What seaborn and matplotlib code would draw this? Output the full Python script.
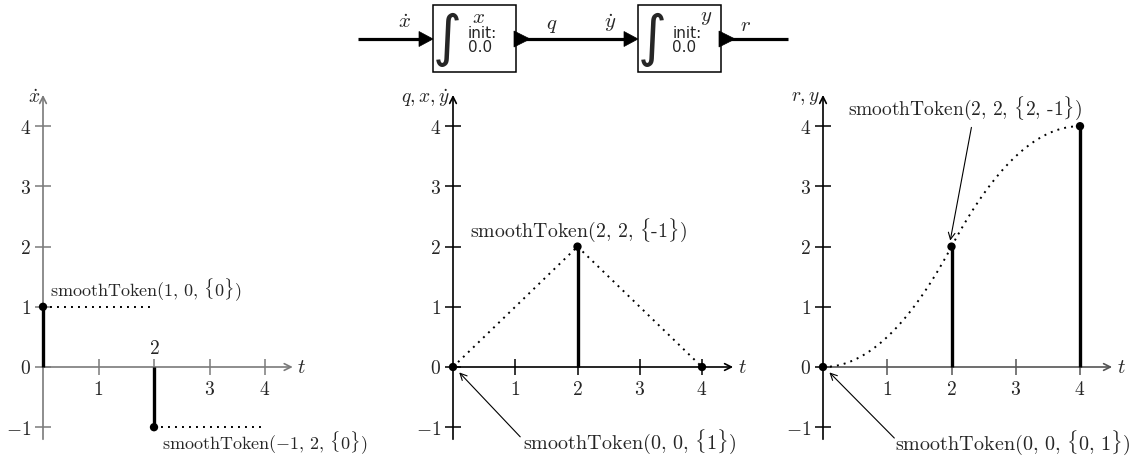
import numpy as np
import pandas as pd
import matplotlib
matplotlib.use("Agg")
import matplotlib.pyplot as plt
from matplotlib.patches import Rectangle, Polygon
import seaborn as sns

sns.set_theme(style="white")
plt.rcParams.update({
    "mathtext.fontset": "cm",
    "font.family": ["DejaVu Sans"],
    "axes.unicode_minus": True,
})

# ---- token data: (value, time, derivatives) and how far each token's trajectory runs
xdot_times = [0, 2]
xdot_values = [1, -1]
xdot_derivs = [[0], [0]]
xdot_until = [2, 4]

q_times = [0, 2, 4]
q_values = [0, 2, 0]
q_derivs = [[1], [-1], []]
q_until = [2, 4, 4]

r_times = [0, 2, 4]
r_values = [0, 2, 4]
r_derivs = [[0, 1], [2, -1], []]
r_until = [2, 4, 4]

tick_labels = ["1", "2", "3", "4"]
ytick_values = [-1, 0, 1, 2, 3, 4]

W, H, DPI = 1135, 457, 100
fig = plt.figure(figsize=(W / DPI, H / DPI), dpi=DPI)
fig.patch.set_facecolor("white")

ORIGIN_Y = 367      # pixel row of value 0
SY = 60.2           # pixels per value unit
XLIM = (-0.6, 4.9)
YLIM = (-1.45, 4.75)

TICK = 14


def make_axes(ox, sx):
    left = ox + XLIM[0] * sx
    width = (XLIM[1] - XLIM[0]) * sx
    bottom_px = ORIGIN_Y - YLIM[0] * SY
    height = (YLIM[1] - YLIM[0]) * SY
    ax = fig.add_axes([left / W, 1 - bottom_px / H, width / W, height / H])
    ax.set_xlim(*XLIM)
    ax.set_ylim(*YLIM)
    ax.patch.set_alpha(0)
    return ax


def trajectory(times, values, derivs, until):
    rows = []
    for k, (t0, v0, d, t1) in enumerate(zip(times, values, derivs, until)):
        if t1 <= t0:
            continue
        tt = np.linspace(t0, t1, 80)
        vv = np.full_like(tt, float(v0))
        fact = 1.0
        for n, c in enumerate(d, start=1):
            fact *= n
            vv = vv + c * (tt - t0) ** n / fact
        rows.append(pd.DataFrame({"t": tt, "v": vv, "seg": k}))
    return pd.concat(rows, ignore_index=True)


def token_label(value, time, derivs):
    # value printed with a true minus sign, derivative list printed as plain text
    if value < 0:
        val = r"\text{smoothToken(}{-" + str(abs(value)) + r"}\text{, "
    else:
        val = r"\text{smoothToken(" + str(value) + ", "
    inner = ", ".join(str(d) for d in derivs)
    return "$" + val + str(time) + r", }\{\text{" + inner + r"}\}\text{)}$"


def style_axes(ax, axis_color_x, axis_color_y, ylabel, label_2_above=False):
    for s in ax.spines.values():
        s.set_visible(False)
    ax.spines["bottom"].set_position(("data", 0))
    ax.spines["left"].set_position(("data", 0))
    ax.annotate("", xy=(4.5, 0), xytext=(0, 0),
                arrowprops=dict(arrowstyle="->", color=axis_color_x, lw=1.2,
                                shrinkA=0, shrinkB=0), zorder=1)
    ax.annotate("", xy=(0, 4.52), xytext=(0, -1.2),
                arrowprops=dict(arrowstyle="->", color=axis_color_y, lw=1.2,
                                shrinkA=0, shrinkB=0), zorder=1)
    ax.set_xticks([1, 2, 3, 4])
    labels = [f"${s}$" for s in tick_labels]
    if label_2_above:
        labels[1] = ""
        ax.annotate("$2$", xy=(2, 0), xytext=(0, 13), textcoords="offset points",
                    ha="center", va="center", fontsize=TICK)
    ax.set_xticklabels(labels, fontsize=TICK)
    ax.set_yticks(ytick_values)
    ax.set_yticklabels([f"${v}$" if v >= 0 else f"$-{abs(v)}$" for v in ytick_values],
                       fontsize=TICK)
    ax.tick_params(axis="x", direction="inout", length=11, width=1.1,
                   color=axis_color_x, pad=4, bottom=True)
    ax.tick_params(axis="y", direction="inout", length=11, width=1.1,
                   color=axis_color_y, pad=3, left=True)
    ax.grid(False)
    ax.text(4.58, 0, "$t$", ha="left", va="center", fontsize=TICK + 1)
    ax.text(-0.05, 4.47, ylabel, ha="right", va="center", fontsize=TICK)


def draw_tokens(ax, times, values, derivs, until):
    traj = trajectory(times, values, derivs, until)
    sns.lineplot(data=traj, x="t", y="v", units="seg", estimator=None, ax=ax,
                 color="black", lw=1.4, linestyle=(0, (1, 2.6)), zorder=2,
                 legend=False)
    ax.vlines(times, 0, values, color="black", lw=2.4, zorder=3)
    pts = pd.DataFrame({"t": times, "v": values})
    sns.scatterplot(data=pts, x="t", y="v", ax=ax, color="black", s=36,
                    edgecolor="none", zorder=4, legend=False)
    ax.set_xlabel("")
    ax.set_ylabel("")


# ---- left: input derivative
ax1 = make_axes(43, 55.5)
style_axes(ax1, "#7a7a7a", "#7a7a7a", r"$\dot{x}$", label_2_above=True)
draw_tokens(ax1, xdot_times, xdot_values, xdot_derivs, xdot_until)
ax1.text(0.13, 1.28, token_label(xdot_values[0], xdot_times[0], xdot_derivs[0]),
         ha="left", va="center", fontsize=13)
ax1.text(2.14, -1.25, token_label(xdot_values[1], xdot_times[1], xdot_derivs[1]),
         ha="left", va="center", fontsize=13)

# ---- middle: first integrator output
ax2 = make_axes(453, 62.25)
style_axes(ax2, "black", "black", r"$q, x, \dot{y}$")
draw_tokens(ax2, q_times, q_values, q_derivs, q_until)
ax2.text(0.27, 2.27, token_label(q_values[1], q_times[1], q_derivs[1]),
         ha="left", va="center", fontsize=14.3)
ax2.text(1.12, -1.25, token_label(q_values[0], q_times[0], q_derivs[0]),
         ha="left", va="center", fontsize=14.5)
ax2.annotate("", xy=(0.1, -0.09), xytext=(1.08, -1.16),
             arrowprops=dict(arrowstyle="->", color="black", lw=0.8,
                             shrinkA=0, shrinkB=0))

# ---- right: second integrator output
ax3 = make_axes(823, 64.25)
style_axes(ax3, "#555555", "black", r"$r, y$")
draw_tokens(ax3, r_times, r_values, r_derivs, r_until)
ax3.text(0.39, 4.3, token_label(r_values[1], r_times[1], r_derivs[1]),
         ha="left", va="center", fontsize=14)
ax3.annotate("", xy=(1.98, 2.1), xytext=(2.31, 3.98),
             arrowprops=dict(arrowstyle="->", color="black", lw=0.8,
                             shrinkA=0, shrinkB=0))
ax3.text(1.12, -1.26, token_label(r_values[0], r_times[0], r_derivs[0]),
         ha="left", va="center", fontsize=14.5)
ax3.annotate("", xy=(0.1, -0.09), xytext=(1.11, -1.18),
             arrowprops=dict(arrowstyle="->", color="black", lw=0.8,
                             shrinkA=0, shrinkB=0))

# ---- block diagram of the two integrators (pixel coordinates)
bd = fig.add_axes([0, 0, 1, 1], zorder=5)
bd.set_xlim(0, W)
bd.set_ylim(H, 0)
bd.axis("off")
bd.patch.set_alpha(0)
LY = 39
for x0, x1 in [(358, 428), (525, 628), (730, 788)]:
    bd.plot([x0, x1], [LY, LY], color="black", lw=2.3, solid_capstyle="butt")
for bx in (433, 638):
    bd.add_patch(Rectangle((bx, 5), 83, 67, fc="white", ec="black", lw=1.1))
    # input arrow head and output port
    bd.add_patch(Polygon([[bx - 14, LY - 7.5], [bx, LY], [bx - 14, LY + 7.5]],
                         closed=True, fc="black", ec="black", lw=0.5))
    bd.add_patch(Polygon([[bx + 81, LY - 8], [bx + 97, LY], [bx + 81, LY + 8]],
                         closed=True, fc="black", ec="black", lw=0.5))
    bd.text(bx + 14, 40, "\u222b", ha="center", va="center", fontsize=40,
            family="DejaVu Sans")

bd.text(482, 34, "init:", ha="center", va="center", fontsize=11)
bd.text(480, 48, "0.0", ha="center", va="center", fontsize=11)
bd.text(478, 17, "$x$", ha="center", va="center", fontsize=15)
bd.text(687, 34, "init:", ha="center", va="center", fontsize=11)
bd.text(684, 48, "0.0", ha="center", va="center", fontsize=11)
bd.text(706, 17, "$y$", ha="center", va="center", fontsize=15)
bd.text(404, 22, r"$\dot{x}$", ha="center", va="center", fontsize=15)
bd.text(552, 25, "$q$", ha="center", va="center", fontsize=15)
bd.text(610, 23, r"$\dot{y}$", ha="center", va="center", fontsize=15)
bd.text(746, 25, "$r$", ha="center", va="center", fontsize=15)

fig.savefig("out.png", dpi=DPI, facecolor="white")
